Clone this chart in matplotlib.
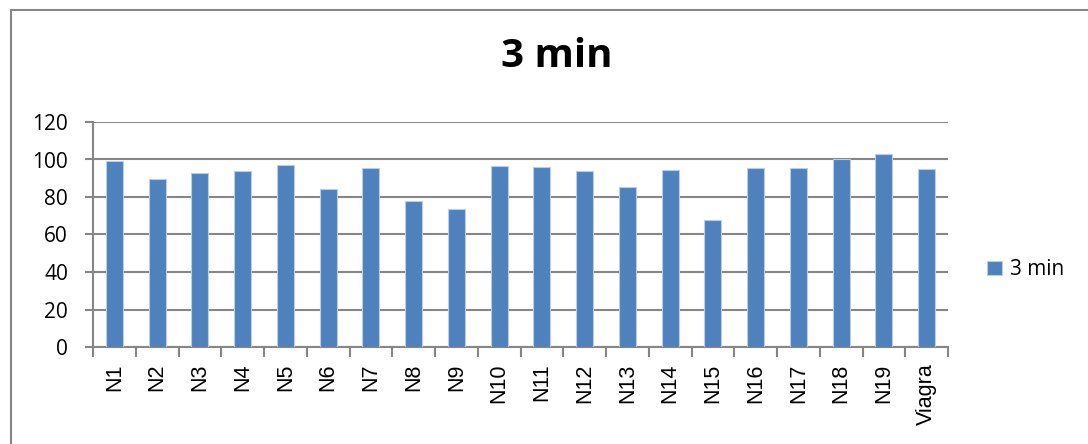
import matplotlib
matplotlib.use("Agg")
import matplotlib.pyplot as plt
import numpy as np
from matplotlib.lines import Line2D

# Scores after 3 minutes per sample
labels = ["N1", "N2", "N3", "N4", "N5", "N6", "N7", "N8", "N9", "N10",
          "N11", "N12", "N13", "N14", "N15", "N16", "N17", "N18", "N19", "Viagra"]
values = [99.3, 89.8, 93.0, 93.6, 97.3, 84.2, 95.7, 78.0, 73.5, 96.6,
          96.1, 93.7, 85.5, 94.6, 67.8, 95.7, 95.7, 100.5, 102.7, 94.8]
series_name = "3 min"

bar_color = "#4F81BD"
grid_color = "#868686"

fig = plt.figure(figsize=(10.88, 4.44), dpi=100)
ax = fig.add_axes([93 / 1088, 1 - 347 / 444, (948 - 93) / 1088, (347 - 122) / 444])

x_pos = np.arange(len(labels))
bars = ax.bar(x_pos, values, width=0.4, color=bar_color, edgecolor="#B9CDE5",
              linewidth=0.8, zorder=3, label=series_name)

# Axis config
ax.set_xlim(-0.5, len(labels) - 0.5)
ax.set_ylim(0, 120)
ax.set_yticks(range(0, 121, 20))
ax.yaxis.grid(True, color=grid_color, linewidth=1.5, zorder=0)
for side in ["top", "right"]:
    ax.spines[side].set_visible(False)
for side in ["left", "bottom"]:
    ax.spines[side].set_color(grid_color)
    ax.spines[side].set_linewidth(1.5)

# Category labels sit between boundary ticks
ax.set_xticks(np.arange(-0.5, len(labels), 1.0))
ax.set_xticklabels([])
ax.set_xticks(x_pos, minor=True)
ax.set_xticklabels(labels, minor=True, rotation=90, fontsize=15.5,
                   family="Liberation Sans")
ax.tick_params(axis="x", which="major", length=7, width=1.5, color=grid_color,
               direction="out")
ax.tick_params(axis="x", which="minor", length=0, pad=12)
ax.tick_params(axis="y", length=6, width=1.5, color=grid_color, labelsize=15,
               pad=12)
for t in ax.get_yticklabels():
    t.set_family("Open Sans")

fig.text(0.512, 0.872, "3 min", ha="center", va="center", fontsize=29,
         fontweight="bold", family="Open Sans")

fig.legend(handles=[bars], labels=[series_name], loc="center left",
           bbox_to_anchor=(0.89, 0.392), frameon=False, handlelength=0.7,
           handleheight=0.7, handletextpad=0.4,
           prop={"family": "Open Sans", "size": 15})

# Chart frame (cut off on the right and bottom)
fig.add_artist(Line2D([11 / 1088, 11 / 1088], [0, 1 - 10 / 444],
                      color=grid_color, linewidth=1.5))
fig.add_artist(Line2D([11 / 1088, 1], [1 - 10 / 444, 1 - 10 / 444],
                      color=grid_color, linewidth=1.5))

fig.savefig("out.png", dpi=100)
